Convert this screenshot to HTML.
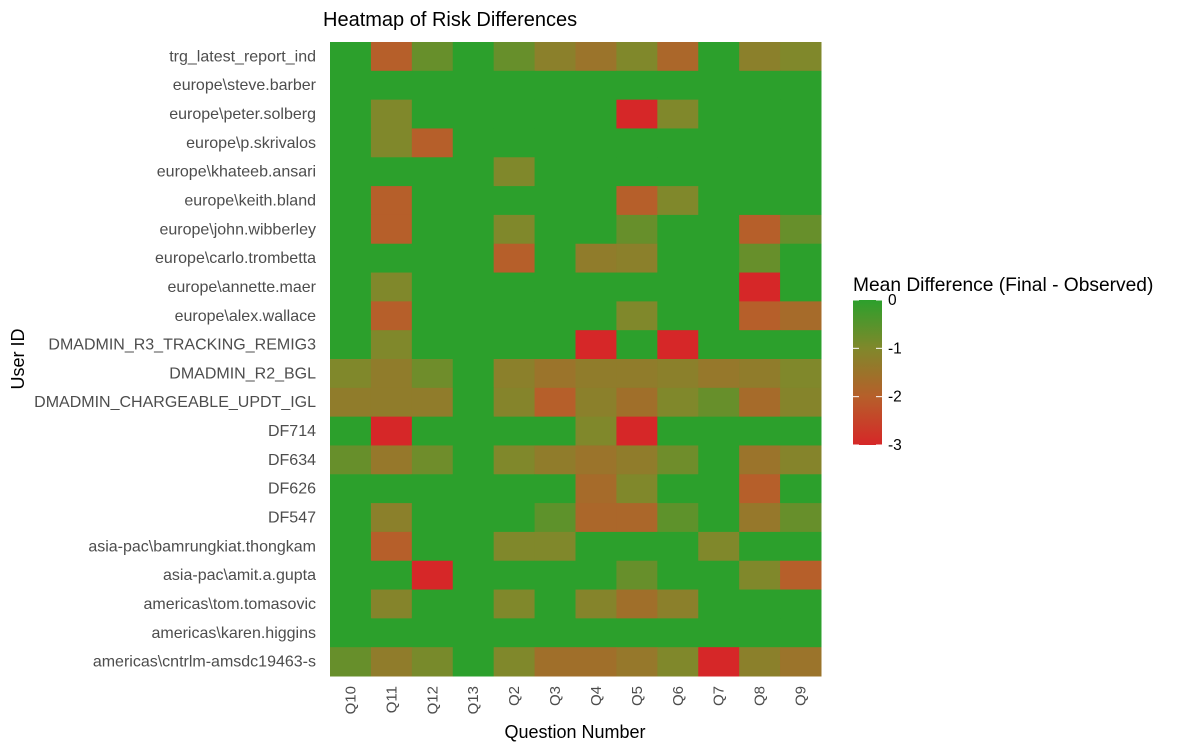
<!DOCTYPE html>
<html><head><meta charset="utf-8"><style>
body{margin:0;background:#fff;font-family:"Liberation Sans",sans-serif;}
svg{display:block}
</style></head><body>
<svg id="chart" width="1182" height="751">
<defs><linearGradient id="lg" x1="0" y1="0" x2="0" y2="1">
<stop offset="0" stop-color="#2ca02c"/><stop offset="0.333" stop-color="#80882b"/><stop offset="0.667" stop-color="#b65f2a"/><stop offset="1" stop-color="#d62728"/></linearGradient></defs>
<text x="323" y="26" font-size="20" fill="#000">Heatmap of Risk Differences</text>
<g id="cells"></g><g id="ylabels"></g><g id="xlabels"></g>
<text x="575" y="738" font-size="18" text-anchor="middle" fill="#000">Question Number</text>
<text transform="translate(24,359) rotate(-90)" font-size="18" text-anchor="middle" fill="#000">User ID</text>
<g>
<text x="853" y="291" font-size="19.2" fill="#000">Mean Difference (Final - Observed)</text>
<rect x="853" y="300" width="29" height="145" fill="url(#lg)"/>
<g id="legticks"></g>
</g>
</svg>
<script>
const questions=["Q10","Q11","Q12","Q13","Q2","Q3","Q4","Q5","Q6","Q7","Q8","Q9"];
const users=["trg_latest_report_ind","europe\\steve.barber","europe\\peter.solberg","europe\\p.skrivalos","europe\\khateeb.ansari","europe\\keith.bland","europe\\john.wibberley","europe\\carlo.trombetta","europe\\annette.maer","europe\\alex.wallace","DMADMIN_R3_TRACKING_REMIG3","DMADMIN_R2_BGL","DMADMIN_CHARGEABLE_UPDT_IGL","DF714","DF634","DF626","DF547","asia-pac\\bamrungkiat.thongkam","asia-pac\\amit.a.gupta","americas\\tom.tomasovic","americas\\karen.higgins","americas\\cntrlm-amsdc19463-s"];
const values=[
[0,-2,-0.7,0,-0.7,-1.2,-1.5,-1,-1.8,0,-1.2,-1],
[0,0,0,0,0,0,0,0,0,0,0,0],
[0,-1,0,0,0,0,0,-3,-1,0,0,0],
[0,-1,-2,0,0,0,0,0,0,0,0,0],
[0,0,0,0,-1,0,0,0,0,0,0,0],
[0,-2,0,0,0,0,0,-2,-1,0,0,0],
[0,-2,0,0,-1,0,0,-0.7,0,0,-2,-0.7],
[0,0,0,0,-2,0,-1.3,-1.2,0,0,-0.7,0],
[0,-1,0,0,0,0,0,0,0,0,-3,0],
[0,-2,0,0,0,0,0,-1,0,0,-2,-1.7],
[0,-1,0,0,0,0,-3,0,-3,0,0,0],
[-1,-1.3,-0.8,0,-1.2,-1.5,-1.3,-1.3,-1.2,-1.4,-1.3,-1],
[-1.3,-1.3,-1.3,0,-1.1,-2,-1.2,-1.6,-1,-0.7,-1.7,-1.1],
[0,-3,0,0,0,0,-1,-3,0,0,0,0],
[-0.7,-1.4,-0.8,0,-1,-1.3,-1.5,-1.3,-0.8,0,-1.5,-1.1],
[0,0,0,0,0,0,-1.7,-1,0,0,-2,0],
[0,-1.2,0,0,0,-0.6,-1.8,-1.8,-0.6,0,-1.4,-0.7],
[0,-2,0,0,-1,-1,0,0,0,-1,0,0],
[0,0,-3,0,0,0,0,-0.7,0,0,-1,-2],
[0,-1.1,0,0,-1,0,-1.1,-1.6,-1.2,0,0,0],
[0,0,0,0,0,0,0,0,0,0,0,0],
[-0.7,-1.3,-0.9,0,-1,-1.6,-1.6,-1.4,-1,-3,-1.2,-1.5]];
const legendTicks=[0,-1,-2,-3];
const NS="http://www.w3.org/2000/svg";
const x0=330,x1=821,y0=42,y1=676;
const cw=(x1-x0)/questions.length, ch=(y1-y0)/users.length;
const xs=i=>x0+i*cw, ys=j=>y0+j*ch;
const stops=[[44,160,44],[128,136,43],[182,95,42],[214,39,40]];
function col(v){let t=Math.min(3,Math.max(0,-v));let k=Math.min(2,Math.floor(t));let f=t-k;const a=stops[k],b=stops[k+1];return `rgb(${a.map((c,i)=>Math.round(c+(b[i]-c)*f)).join(",")})`;}
const cells=document.getElementById("cells"),yl=document.getElementById("ylabels"),xl=document.getElementById("xlabels");
users.forEach((u,j)=>{
 questions.forEach((q,i)=>{
  const r=document.createElementNS(NS,"rect");
  r.setAttribute("x",xs(i));r.setAttribute("y",ys(j));r.setAttribute("width",cw+0.5);r.setAttribute("height",ch+0.5);
  r.setAttribute("fill",col(values[j][i]));
  
  
  cells.appendChild(r);
 });
 const t=document.createElementNS(NS,"text");
 t.setAttribute("x",316);t.setAttribute("y",ys(j)+ch/2+5);t.setAttribute("text-anchor","end");t.setAttribute("font-size","16");t.setAttribute("fill","#4d4d4d");
 t.textContent=u;
 
 
 yl.appendChild(t);
});
questions.forEach((q,i)=>{
 const t=document.createElementNS(NS,"text");
 const cx=xs(i)+cw/2+5;
 t.setAttribute("transform",`translate(${cx},686) rotate(-90)`);t.setAttribute("text-anchor","end");t.setAttribute("font-size","15");t.setAttribute("fill","#4d4d4d");
 t.textContent=q;
 
 
 xl.appendChild(t);
});
const lg=document.getElementById("legticks");
legendTicks.forEach(v=>{
 const y=300+(-v/3)*145;
 const t=document.createElementNS(NS,"text");
 t.setAttribute("x",888);t.setAttribute("y",y+5);t.setAttribute("font-size","15.5");t.setAttribute("fill","#000");
 t.textContent=v;
 
 
 lg.appendChild(t);
 [[853,859],[876,882]].forEach(p=>{
  const l=document.createElementNS(NS,"line");
  l.setAttribute("x1",p[0]);l.setAttribute("x2",p[1]);l.setAttribute("y1",y);l.setAttribute("y2",y);l.setAttribute("stroke","#fff");
  
  
  lg.appendChild(l);
 });
});
</script>
</body></html>
